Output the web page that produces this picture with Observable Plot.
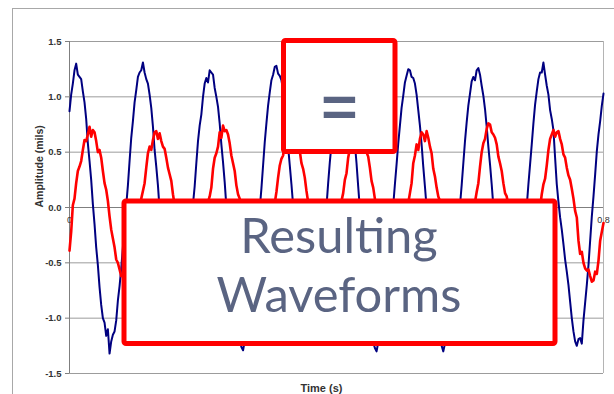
<!DOCTYPE html>
<html>
<head>
<meta charset="utf-8">
<script src="https://cdn.jsdelivr.net/npm/d3@7"></script>
<script src="https://cdn.jsdelivr.net/npm/@observablehq/plot@0.6"></script>
<style>
html, body { margin: 0; padding: 0; background: #fff; }
#wrap { position: relative; width: 614px; height: 394px; overflow: hidden; }
#outer { position: absolute; left: 12px; top: 8px; width: 640px; height: 420px; border-top: 1.5px solid #a8a8a8; border-left: 1.5px solid #a8a8a8; }
#chart { position: absolute; left: 0; top: 0; }
#ann { position: absolute; left: 0; top: 0; }
</style>
</head>
<body>
<div id="wrap">
  <div id="outer"></div>
  <div id="chart"></div>
  <svg id="ann" width="614" height="394">
    <rect x="283.5" y="40.5" width="111.5" height="111" rx="2" fill="#fff" stroke="#ff0000" stroke-width="5"/>
    <text id="eq" x="339.5" y="128" text-anchor="middle" font-family="Lato, 'Open Sans', sans-serif" font-size="73" fill="#5a6482" transform="translate(339.5,105.75) scale(1,1.25) translate(-339.5,-102)">=</text>
    <rect x="124" y="201" width="431" height="142.5" rx="2" fill="#fff" stroke="#ff0000" stroke-width="5"/>
    <text id="t1" x="339" y="252.7" text-anchor="middle" font-family="Lato, 'Open Sans', sans-serif" font-size="48" fill="#5a6482">Resulting</text>
    <text id="t2" x="339" y="311.7" text-anchor="middle" font-family="Lato, 'Open Sans', sans-serif" font-size="48" fill="#5a6482">Waveforms</text>
  </svg>
</div>
<script>
// sampling step of the recorded time series (s)
const step = 0.0025;

// blue series: amplitude (mils), one value every 0.0025 s from 0 to 0.8 s
const blueValues = [
  0.87, 1.02, 1.12, 1.24, 1.30, 1.20, 1.18, 1.16, 1.05, 0.95,
  0.80, 0.58, 0.42, 0.25, 0.03, -0.15, -0.36, -0.52, -0.72, -0.88,
  -1.00, -1.04, -1.16, -1.10, -1.32, -1.21, -1.15, -1.12, -1.02, -0.84,
  -0.71, -0.55, -0.36, -0.15, 0.02, 0.20, 0.42, 0.63, 0.78, 0.95,
  1.06, 1.18, 1.22, 1.24, 1.31, 1.22, 1.16, 1.12, 1.02, 0.90,
  0.73, 0.52, 0.37, 0.20, -0.02, -0.19, -0.40, -0.60, -0.74, -0.86,
  -1.01, -1.12, -1.17, -1.10, -1.22, -1.24, -1.18, -1.08, -1.00, -0.91,
  -0.77, -0.56, -0.38, -0.19, 0.03, 0.19, 0.40, 0.60, 0.74, 0.84,
  1.00, 1.12, 1.17, 1.13, 1.24, 1.22, 1.20, 1.08, 1.00, 0.91,
  0.76, 0.57, 0.41, 0.23, 0.01, -0.19, -0.37, -0.54, -0.76, -0.93,
  -1.04, -1.09, -1.20, -1.26, -1.29, -1.21, -1.19, -1.14, -1.05, -0.87,
  -0.73, -0.58, -0.40, -0.18, -0.01, 0.17, 0.38, 0.59, 0.76, 0.92,
  1.04, 1.15, 1.20, 1.27, 1.28, 1.21, 1.19, 1.15, 1.06, 0.92,
  0.74, 0.55, 0.38, 0.21, 0.02, -0.17, -0.38, -0.57, -0.73, -0.87,
  -1.00, -1.10, -1.15, -1.12, -1.20, -1.21, -1.16, -1.09, -1.01, -0.88,
  -0.74, -0.57, -0.37, -0.17, 0.01, 0.22, 0.41, 0.57, 0.75, 0.90,
  1.02, 1.12, 1.15, 1.20, 1.22, 1.16, 1.18, 1.13, 1.03, 0.92,
  0.77, 0.58, 0.40, 0.19, -0.01, -0.21, -0.40, -0.57, -0.75, -0.92,
  -1.05, -1.11, -1.22, -1.27, -1.30, -1.22, -1.20, -1.15, -1.04, -0.91,
  -0.76, -0.58, -0.39, -0.17, 0.02, 0.21, 0.39, 0.58, 0.74, 0.90,
  1.01, 1.13, 1.19, 1.25, 1.24, 1.18, 1.17, 1.12, 1.02, 0.88,
  0.74, 0.57, 0.37, 0.19, 0.00, -0.20, -0.38, -0.55, -0.74, -0.90,
  -1.03, -1.08, -1.21, -1.25, -1.30, -1.23, -1.22, -1.13, -1.02, -0.90,
  -0.75, -0.56, -0.38, -0.19, 0.02, 0.20, 0.40, 0.60, 0.77, 0.92,
  1.03, 1.14, 1.18, 1.15, 1.24, 1.26, 1.20, 1.10, 1.01, 0.89,
  0.73, 0.55, 0.39, 0.21, 0.01, -0.18, -0.39, -0.57, -0.73, -0.89,
  -1.02, -1.08, -1.17, -1.14, -1.22, -1.23, -1.18, -1.11, -1.03, -0.89,
  -0.74, -0.57, -0.38, -0.17, 0.01, 0.21, 0.39, 0.57, 0.76, 0.93,
  1.05, 1.16, 1.22, 1.22, 1.31, 1.20, 1.10, 1.02, 0.88, 0.80,
  0.70, 0.45, 0.21, 0.05, -0.09, -0.20, -0.33, -0.47, -0.58, -0.70,
  -0.85, -1.00, -1.12, -1.21, -1.25, -1.19, -1.18, -1.23, -1.02, -0.86,
  -0.70, -0.52, -0.30, -0.08, 0.10, 0.30, 0.51, 0.66, 0.78, 0.92,
  1.03
];

// red series: amplitude (mils), same sampling
const redValues = [
  -0.39, -0.22, 0.02, 0.08, 0.22, 0.33, 0.37, 0.42, 0.52, 0.61,
  0.60, 0.66, 0.73, 0.64, 0.70, 0.68, 0.60, 0.50, 0.52, 0.45,
  0.33, 0.22, 0.16, 0.06, -0.08, -0.20, -0.28, -0.36, -0.47, -0.50,
  -0.56, -0.62, -0.61, -0.60, -0.66, -0.60, -0.57, -0.52, -0.44, -0.32,
  -0.25, -0.17, -0.05, 0.08, 0.15, 0.22, 0.36, 0.49, 0.55, 0.52,
  0.61, 0.68, 0.69, 0.62, 0.67, 0.60, 0.55, 0.53, 0.45, 0.36,
  0.30, 0.24, 0.12, 0.02, -0.06, -0.14, -0.27, -0.38, -0.44, -0.47,
  -0.55, -0.61, -0.62, -0.58, -0.63, -0.66, -0.59, -0.50, -0.43, -0.39,
  -0.31, -0.15, -0.06, 0.05, 0.10, 0.18, 0.35, 0.45, 0.49, 0.55,
  0.68, 0.63, 0.74, 0.69, 0.70, 0.66, 0.58, 0.47, 0.40, 0.33,
  0.20, 0.12, 0.08, 0.03, -0.05, -0.15, -0.22, -0.30, -0.43, -0.52,
  -0.58, -0.55, -0.60, -0.64, -0.65, -0.58, -0.55, -0.52, -0.47, -0.33,
  -0.27, -0.20, -0.10, 0.04, 0.14, 0.27, 0.38, 0.44, 0.47, 0.58,
  0.64, 0.60, 0.70, 0.75, 0.73, 0.66, 0.63, 0.59, 0.51, 0.40,
  0.35, 0.27, 0.15, 0.05, -0.02, -0.15, -0.26, -0.31, -0.40, -0.49,
  -0.54, -0.58, -0.65, -0.61, -0.62, -0.65, -0.60, -0.51, -0.44, -0.36,
  -0.30, -0.13, -0.07, 0.06, 0.13, 0.25, 0.31, 0.45, 0.53, 0.54,
  0.62, 0.70, 0.72, 0.65, 0.69, 0.71, 0.66, 0.55, 0.50, 0.46,
  0.36, 0.24, 0.18, 0.08, -0.05, -0.16, -0.24, -0.36, -0.44, -0.48,
  -0.57, -0.62, -0.61, -0.59, -0.64, -0.62, -0.56, -0.52, -0.45, -0.34,
  -0.28, -0.20, -0.08, 0.04, 0.13, 0.22, 0.40, 0.47, 0.57, 0.52,
  0.62, 0.68, 0.66, 0.60, 0.69, 0.63, 0.55, 0.49, 0.35, 0.28,
  0.18, 0.10, 0.06, 0.01, -0.06, -0.17, -0.26, -0.31, -0.41, -0.50,
  -0.55, -0.57, -0.63, -0.59, -0.62, -0.66, -0.58, -0.50, -0.46, -0.36,
  -0.30, -0.16, -0.10, 0.05, 0.14, 0.22, 0.37, 0.50, 0.58, 0.62,
  0.71, 0.76, 0.75, 0.68, 0.66, 0.63, 0.57, 0.46, 0.40, 0.33,
  0.22, 0.13, 0.10, 0.02, -0.04, -0.16, -0.23, -0.31, -0.43, -0.51,
  -0.56, -0.59, -0.62, -0.60, -0.65, -0.61, -0.57, -0.53, -0.45, -0.33,
  -0.25, -0.10, 0.00, 0.12, 0.21, 0.26, 0.38, 0.52, 0.62, 0.66,
  0.70, 0.64, 0.68, 0.69, 0.62, 0.57, 0.48, 0.45, 0.36, 0.29,
  0.25, 0.17, 0.08, -0.03, -0.09, -0.30, -0.42, -0.40, -0.50, -0.55,
  -0.57, -0.56, -0.62, -0.67, -0.66, -0.58, -0.60, -0.48, -0.30, -0.22,
  -0.14
];

const yTicks = [-1.5, -1.0, -0.5, 0.0, 0.5, 1.0, 1.5];
const yTickLabels = ["-1.5", "-1.0", "-0.5", "0.0", "0.5", "1.0", "1.5"];
// only the x tick labels that are not hidden by the callout boxes
const xTicks = [0, 0.8];
const xTickLabels = ["0", "0.8"];
const yTitle = "Amplitude (mils)";
const xTitle = "Time (s)";

const font = "'Liberation Sans', Arial, sans-serif";

const chart = Plot.plot({
  width: 614,
  height: 394,
  marginLeft: 69,
  marginRight: 11,
  marginTop: 41,
  marginBottom: 21,
  x: { domain: [0, 0.8], axis: null },
  y: { domain: [-1.5, 1.5], axis: null },
  style: { background: "transparent", fontFamily: font, color: "#262626" },
  marks: [
    Plot.ruleY(yTicks, { stroke: "#9c9c9c", strokeWidth: 1 }),
    Plot.ruleX([0.8], { stroke: "#b4b4b4", strokeWidth: 1 }),
    Plot.ruleY([0], { stroke: "#7f7f7f", strokeWidth: 1 }),
    Plot.axisY({
      ticks: yTicks,
      tickFormat: d => yTickLabels[yTicks.indexOf(d)],
      tickSize: 4,
      tickPadding: 4,
      fontSize: 9.5,
      fontWeight: "bold",
      stroke: "#7f7f7f",
      fill: "#333",
      label: null
    }),
    Plot.ruleX([0], { stroke: "#7f7f7f", strokeWidth: 1 }),
    Plot.text(xTicks, {
      x: d => d, y: 0, dy: 13,
      text: (d, i) => xTickLabels[i],
      fontSize: 9, fill: "#333"
    }),
    Plot.lineY(blueValues, { x: (d, i) => i * step, y: d => d, stroke: "#000080", strokeWidth: 2, strokeLinejoin: "round" }),
    Plot.lineY(redValues, { x: (d, i) => i * step, y: d => d, stroke: "#ff0000", strokeWidth: 2.6, strokeLinejoin: "round" }),
    Plot.text([yTitle], {
      frameAnchor: "left", lineAnchor: "middle", rotate: -90, dx: -30,
      fontSize: 10.5, fontWeight: "bold", fill: "#333"
    }),
    Plot.text([xTitle], {
      frameAnchor: "bottom", lineAnchor: "middle", dx: -15, dy: 15,
      fontSize: 11, fontWeight: "bold", fill: "#333"
    })
  ]
});
document.getElementById("chart").appendChild(chart);

// fit the annotation text to the original widths
const t2 = document.getElementById("t2");
const len = t2.getComputedTextLength();
if (len > 0) {
  const fs = 48 * 245 / len;
  t2.setAttribute("font-size", fs);
  document.getElementById("t1").setAttribute("font-size", fs);
}
</script>
</body>
</html>
